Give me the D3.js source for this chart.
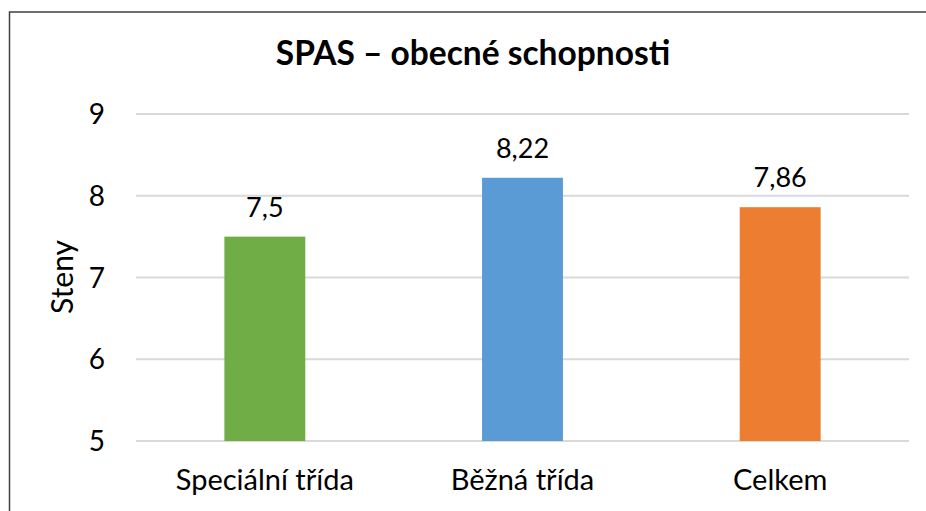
<!DOCTYPE html>
<html lang="cs">
	<head>
		<meta charset="utf-8">
		<title>SPAS – obecné schopnosti</title>
		<script type="text/javascript" src="https://cdn.jsdelivr.net/npm/d3@7"></script>
		<style type="text/css">
			html, body{
				margin: 0;
				padding: 0;
				background-color: #FFF;
			}
			svg{
				display: block;
				font-family: Lato, "Open Sans", sans-serif;
			}
		</style>
	</head>
	<body>
		<div id="chart"></div>
		<script type="text/javascript">

			// data
			var categories = ["Speciální třída", "Běžná třída", "Celkem"];
			var values = [7.5, 8.22, 7.86];
			var barColors = ["#70AD47", "#5B9BD5", "#ED7D31"];
			var yTicks = [5, 6, 7, 8, 9];

			var w = 926;
			var h = 511;
			var plot = {left: 136, right: 909, top: 114, bottom: 441};

			var svg = d3.select("#chart")
				.append("svg")
				.attr("width", w)
				.attr("height", h);

			// chart frame (runs off the right and bottom edge)
			svg.append("rect")
				.attr("x", 9.5)
				.attr("y", 12)
				.attr("width", 1000)
				.attr("height", 600)
				.attr("fill", "none")
				.attr("stroke", "#404040")
				.attr("stroke-width", 1.5);

			var xScale = d3.scaleBand()
				.domain(categories)
				.range([plot.left, plot.right]);
			var yScale = d3.scaleLinear()
				.domain([5, 9])
				.range([plot.bottom, plot.top]);

			var barW = xScale.bandwidth() * 0.314;

			//gridlines
			svg.selectAll("line.grid")
				.data(yTicks)
				.enter()
				.append("line")
				.attr("class", "grid")
				.attr("x1", plot.left)
				.attr("x2", plot.right)
				.attr("y1", function(d) { return yScale(d); })
				.attr("y2", function(d) { return yScale(d); })
				.attr("stroke", "#D9D9D9")
				.attr("stroke-width", 2);

			//y tick labels
			svg.selectAll("text.ytick")
				.data(yTicks)
				.enter()
				.append("text")
				.attr("class", "ytick")
				.text(function(d) { return d; })
				.attr("x", 105)
				.attr("y", function(d) { return yScale(d); })
				.attr("dy", "0.36em")
				.attr("text-anchor", "end")
				.attr("font-size", "28px")
				.attr("fill", "#000");

			//bars
			svg.selectAll("rect.bar")
				.data(values)
				.enter()
				.append("rect")
				.attr("class", "bar")
				.attr("x", function(d, i) {
					return xScale(categories[i]) + xScale.bandwidth() / 2 - barW / 2;
				})
				.attr("y", function(d) { return yScale(d); })
				.attr("width", barW)
				.attr("height", function(d) { return yScale(5) - yScale(d); })
				.attr("fill", function(d, i) { return barColors[i]; });

			//value labels
			svg.selectAll("text.val")
				.data(values)
				.enter()
				.append("text")
				.attr("class", "val")
				.text(function(d) { return String(d).replace(".", ","); })
				.attr("x", function(d, i) {
					return xScale(categories[i]) + xScale.bandwidth() / 2;
				})
				.attr("y", function(d) { return yScale(d) - 20; })
				.attr("text-anchor", "middle")
				.attr("font-size", "27px")
				.attr("fill", "#000");

			//category labels
			svg.selectAll("text.cat")
				.data(categories)
				.enter()
				.append("text")
				.attr("class", "cat")
				.text(function(d) { return d; })
				.attr("x", function(d) { return xScale(d) + xScale.bandwidth() / 2; })
				.attr("y", 490)
				.attr("text-anchor", "middle")
				.attr("font-size", "29px")
				.attr("fill", "#000");

			//axis title
			svg.append("text")
				.text("Steny")
				.attr("transform", "translate(73,277) rotate(-90)")
				.attr("text-anchor", "middle")
				.attr("font-size", "30px")
				.attr("fill", "#000");

			//chart title
			svg.append("text")
				.text("SPAS – obecné schopnosti")
				.attr("x", 473)
				.attr("y", 65)
				.attr("text-anchor", "middle")
				.attr("font-size", "33.5px")
				.attr("font-weight", "bold")
				.attr("fill", "#000");
		</script>
	</body>
</html>
